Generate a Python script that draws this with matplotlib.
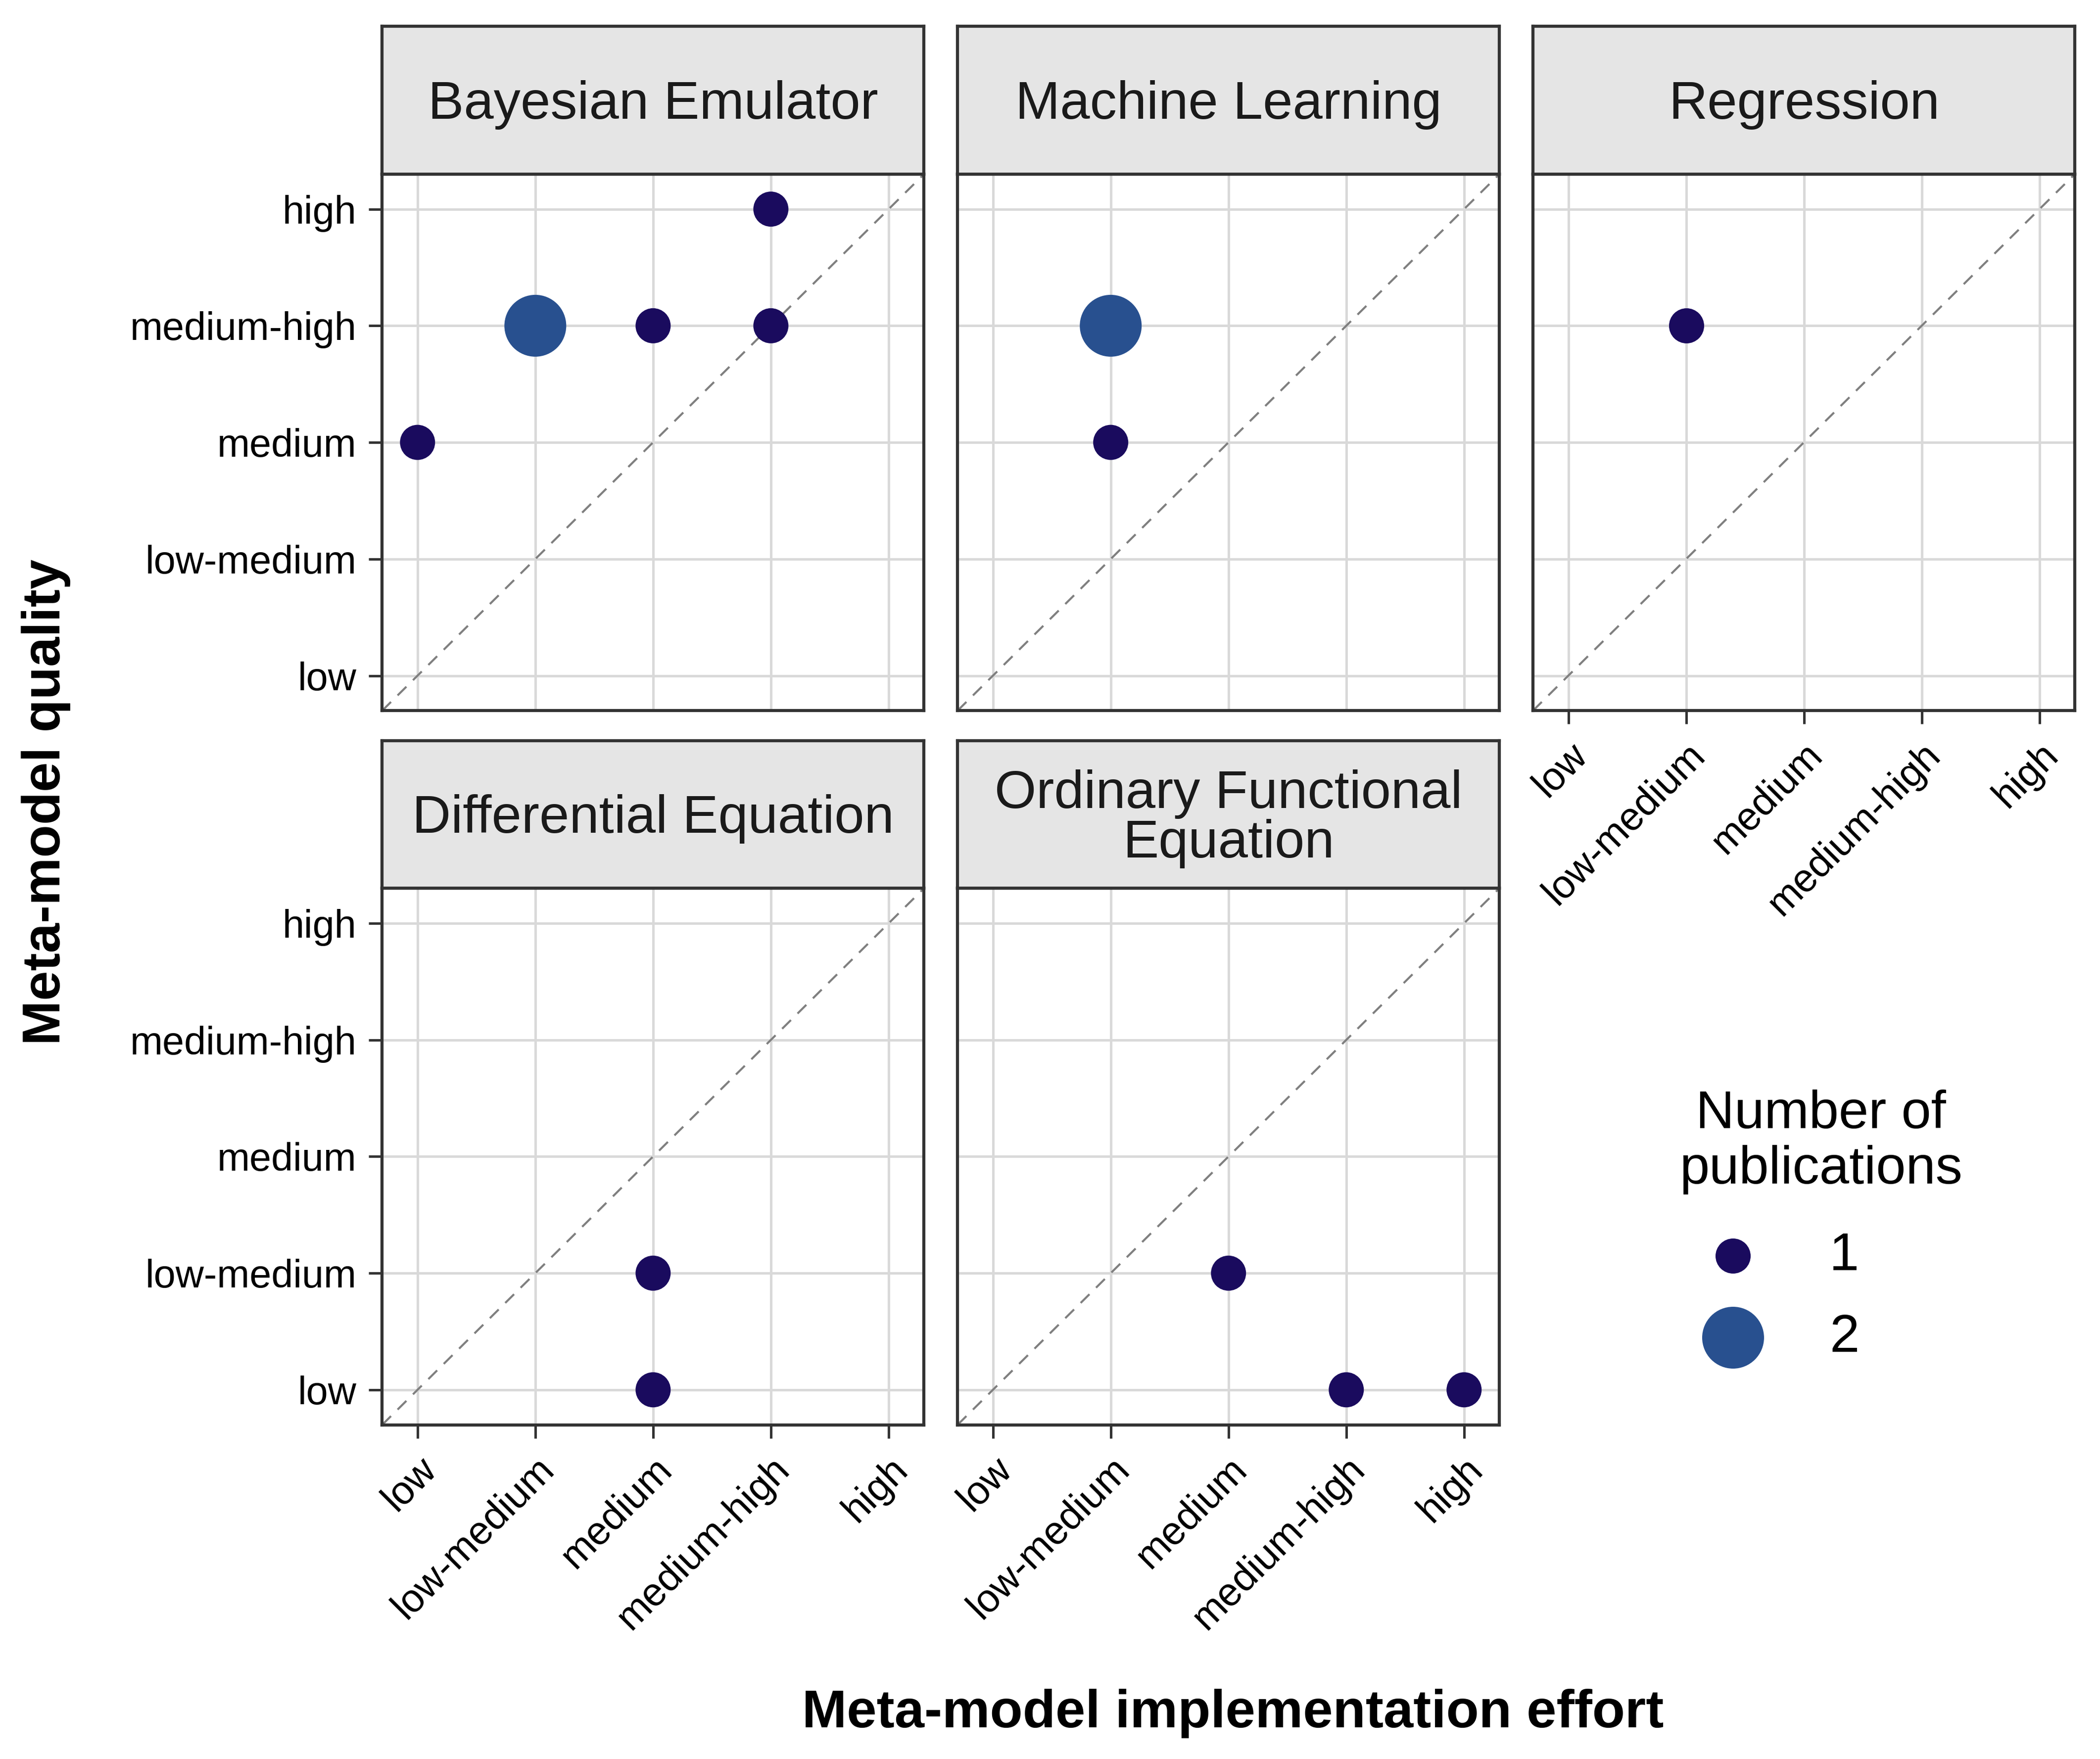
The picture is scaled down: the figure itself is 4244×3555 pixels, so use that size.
import numpy as np
import pandas as pd
import matplotlib
matplotlib.use('Agg')
import matplotlib.pyplot as plt

# ---------------------------------------------------------------
# Data
# ---------------------------------------------------------------
levels = ['low', 'low-medium', 'medium', 'medium-high', 'high']
panels = ['Bayesian Emulator', 'Machine Learning', 'Regression',
          'Differential Equation', 'Ordinary Functional\nEquation']

pt_panel = ['Bayesian Emulator'] * 5 + ['Machine Learning'] * 2 + ['Regression'] \
    + ['Differential Equation'] * 2 + ['Ordinary Functional\nEquation'] * 3
pt_effort = ['low', 'low-medium', 'medium', 'medium-high', 'medium-high',
             'low-medium', 'low-medium',
             'low-medium',
             'medium', 'medium',
             'medium', 'medium-high', 'high']
pt_quality = ['medium', 'medium-high', 'medium-high', 'medium-high', 'high',
              'medium-high', 'medium',
              'medium-high',
              'low-medium', 'low',
              'low-medium', 'low', 'low']
pt_count = [1, 2, 1, 1, 1,
            2, 1,
            1,
            1, 1,
            1, 1, 1]

count_levels = [1, 2]
count_sizes = [290, 900]
count_colors = ['#1A0B5E', '#28508F']

df = pd.DataFrame({'panel': pt_panel, 'effort': pt_effort,
                   'quality': pt_quality, 'n': pt_count})
df['x'] = df['effort'].map(lambda v: levels.index(v) + 1)
df['y'] = df['quality'].map(lambda v: levels.index(v) + 1)
df['s'] = df['n'].map(dict(zip(count_levels, count_sizes)))
df['c'] = df['n'].map(dict(zip(count_levels, count_colors)))

# ---------------------------------------------------------------
# Style
# ---------------------------------------------------------------
plt.rcParams['font.family'] = ['Liberation Sans', 'DejaVu Sans']
TICK_FS = 19
BIG_FS = 26
EDGE = '#333333'

fig = plt.figure(figsize=(4244 / 300, 3555 / 300), dpi=300)

col_left = [0.182, 0.456, 0.730]
col_w = 0.258
row_bottom = [0.596, 0.190]
row_h = 0.305
strip_h = 0.084
lim = (0.7, 5.3)

for i, name in enumerate(panels):
    r, c = divmod(i, 3)
    ax = fig.add_axes([col_left[c], row_bottom[r], col_w, row_h])
    sub = df[df['panel'] == name]

    ax.plot(lim, lim, ls=(0, (6, 4.5)), color='#7F7F7F', lw=1.0, zorder=2)
    ax.scatter(sub['x'], sub['y'], s=sub['s'], c=sub['c'], linewidths=0, zorder=3)

    ax.set_xlim(lim)
    ax.set_ylim(lim)
    ax.set_xticks(range(1, 6))
    ax.set_yticks(range(1, 6))
    ax.grid(True, color='#D9D9D9', lw=1.2, zorder=0)
    ax.set_axisbelow(True)
    for sp in ax.spines.values():
        sp.set_color(EDGE)
        sp.set_linewidth(1.5)
    ax.tick_params(length=6.5, width=1.2, color=EDGE, pad=6, labelsize=TICK_FS)

    if c == 0:
        ax.set_yticklabels(levels)
    else:
        ax.set_yticklabels([])
        ax.tick_params(axis='y', length=0)
    # bottom panels of each column get x labels
    if r == 1 or c == 2:
        ax.set_xticklabels(levels, rotation=45, ha='right', va='top',
                           rotation_mode='anchor')
    else:
        ax.set_xticklabels([])
        ax.tick_params(axis='x', length=0)

    # facet strip
    sax = fig.add_axes([col_left[c], row_bottom[r] + row_h, col_w, strip_h])
    sax.set_facecolor('#E5E5E5')
    sax.set_xticks([])
    sax.set_yticks([])
    for sp in sax.spines.values():
        sp.set_color(EDGE)
        sp.set_linewidth(1.5)
    sax.text(0.5, 0.47, name, ha='center', va='center', fontsize=BIG_FS,
             color='#1A1A1A', transform=sax.transAxes, linespacing=1.0)

fig.text(0.587, 0.026, 'Meta-model implementation effort', ha='center', va='center',
         fontsize=BIG_FS, fontweight='bold')
fig.text(0.022, 0.544, 'Meta-model quality', ha='center', va='center',
         rotation=90, fontsize=BIG_FS, fontweight='bold')

# legend
handles = [plt.scatter([], [], s=s, c=col, linewidths=0)
           for s, col in zip(count_sizes, count_colors)]
leg = fig.legend(handles, [str(v) for v in count_levels],
                 title='Number of\npublications', loc='center',
                 bbox_to_anchor=(0.867, 0.303), frameon=False,
                 fontsize=BIG_FS, title_fontsize=BIG_FS,
                 handletextpad=0.8, labelspacing=0.6, borderpad=0,
                 alignment='left')
leg.get_title().set_multialignment('center')
leg.get_title().set_linespacing(1.15)
leg._legend_box.sep = 18

fig.savefig('out.png', dpi=300)
